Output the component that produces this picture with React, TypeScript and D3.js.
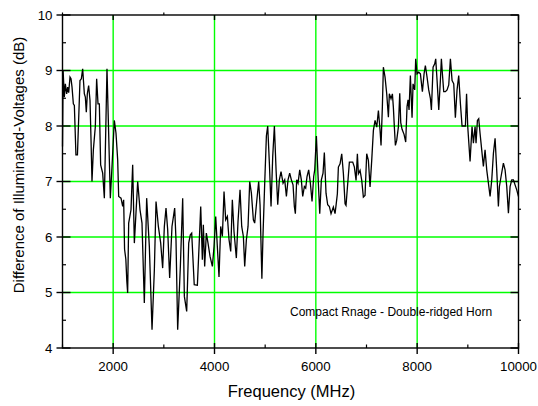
import React from "react";
import * as d3 from "d3";

const freqMHz = [
  1000, 1012, 1036, 1056, 1082, 1102, 1122, 1148, 1168, 1188, 1214, 1234, 1265, 1295, 1345, 1372, 1398, 1431, 1451, 1470,
  1490, 1516, 1543, 1563, 1582, 1609, 1648, 1674, 1701, 1727, 1753, 1793, 1826, 1859, 1878, 1911, 1944, 1977, 2023, 2056,
  2089, 2109, 2155, 2188, 2207, 2225, 2250, 2270, 2286,
  2306, 2352, 2385, 2418, 2484, 2530, 2569, 2615, 2661, 2714, 2767, 2813, 2846, 2892, 2938, 2977, 3010, 3043, 3076, 3115,
  3161, 3214, 3240, 3273, 3326, 3372, 3405, 3451, 3491, 3523, 3550, 3600,
  3662, 3695, 3728, 3760, 3780, 3806, 3839, 3872, 3912, 3958, 3991, 4024, 4056, 4089, 4122, 4155, 4188, 4221, 4254, 4287,
  4320, 4352, 4385, 4431, 4464, 4504, 4537, 4570, 4596, 4629, 4662, 4695, 4728, 4767, 4793, 4833, 4872, 4899, 4935,
  4958, 4991, 5024, 5050, 5083, 5116, 5149, 5182, 5215, 5248, 5280, 5313, 5353, 5386, 5419, 5451, 5484, 5517, 5550, 5576,
  5596, 5622, 5649, 5682, 5714, 5741, 5774, 5800, 5826, 5859, 5892, 5925, 5958, 5978, 6011, 6044, 6077, 6109, 6142, 6168,
  6201, 6234, 6267, 6300,
  6346, 6379, 6399, 6425, 6445, 6478, 6511, 6544, 6577, 6596, 6629, 6662, 6695, 6728, 6761, 6794, 6820, 6840, 6873, 6906,
  6938, 6971, 7004, 7037, 7070, 7103, 7136, 7169, 7202, 7235, 7268, 7287, 7313, 7333, 7366, 7399, 7432, 7451, 7484, 7511,
  7530, 7550, 7570, 7596, 7629,
  7656, 7676, 7702, 7741, 7774, 7800, 7820, 7840, 7866, 7899, 7919, 7952, 7971, 7998, 8031, 8064, 8103, 8136, 8162, 8195,
  8228, 8261, 8281, 8314, 8346, 8366, 8393, 8426, 8458, 8478, 8498, 8524, 8557, 8590, 8623, 8656, 8689, 8722, 8754, 8787,
  8820, 8853, 8886, 8919, 8952, 8975,
  8998, 9044, 9083, 9110, 9143, 9162, 9189, 9215, 9241, 9274, 9307, 9340, 9373, 9406, 9439, 9472, 9505, 9538, 9570, 9603,
  9623, 9656, 9702, 9735, 9768, 9801, 9834, 9867, 9900, 9932, 9965, 10000,
];

const diffDb = [
  7.63, 9.0, 8.52, 8.76, 8.58, 8.7, 8.6, 8.88, 8.85, 8.7, 8.4, 8.37, 7.48, 7.48, 8.82, 8.85, 9.03, 8.58, 8.52, 8.25,
  8.58, 8.73, 8.46, 7.75, 7.0, 7.57, 7.99, 8.85, 8.4, 8.4, 7.3, 7.15, 6.7, 8.16, 9.03, 7.87, 6.7, 7.27, 8.1, 7.87,
  7.39, 6.73, 6.7, 6.55, 6.67, 5.78, 5.6, 5.2, 4.99,
  6.25, 6.49, 7.3, 5.89, 7.0, 6.49, 6.25, 4.81, 6.7, 5.83, 4.33, 5.41, 6.64, 6.19, 5.89, 5.44, 6.19, 6.52, 6.13, 5.26,
  6.19, 6.52, 5.95, 4.33, 5.47, 6.7, 4.93, 4.66, 5.89, 6.04, 6.07, 5.14,
  5.13, 5.83, 6.55, 5.59, 6.22, 5.47, 6.07, 5.89, 5.65, 5.47, 5.83, 6.37, 5.83, 5.28, 6.19, 6.01, 6.82, 6.31, 6.37, 5.95,
  5.74, 6.67, 6.1, 5.62, 6.28, 6.85, 6.19, 6.01, 5.47, 5.95, 6.19, 7.0, 6.79, 6.31, 6.25, 6.64, 7.0, 6.58, 5.25,
  6.06, 6.97, 7.82, 8.0, 7.33, 6.55, 7.45, 8.0, 7.21, 6.58, 7.03, 7.18, 6.97, 7.03, 6.73, 7.03, 7.15, 7.03, 6.94, 6.55,
  6.42, 7.03, 6.97, 7.21, 7.03, 6.73, 6.91, 6.88, 7.09, 7.21, 6.97, 6.64, 7.09, 7.21, 7.82, 7.09, 6.42, 7.03, 7.15, 7.52,
  6.79, 6.58, 6.55, 6.42,
  6.54, 6.42, 6.57, 6.78, 7.26, 7.32, 7.5, 7.14, 6.6, 6.57, 6.96, 7.35, 7.35, 7.35, 7.26, 7.02, 7.5, 7.14, 7.2, 7.02,
  6.72, 6.75, 7.5, 7.38, 6.9, 7.38, 7.92, 8.1, 7.98, 8.28, 7.92, 7.65, 8.34, 9.06, 8.88, 8.58, 8.16, 8.58, 8.49, 8.58,
  8.34, 7.98, 7.65, 7.74, 7.98,
  8.59, 8.06, 7.94, 7.85, 7.71, 8.35, 8.47, 8.29, 8.91, 8.15, 8.76, 8.65, 9.21, 8.94, 8.97, 8.94, 8.62, 8.94, 9.09, 8.88,
  8.65, 8.5, 8.29, 9.06, 9.12, 9.21, 8.82, 8.29, 8.82, 9.21, 8.94, 8.62, 8.62, 8.65, 8.74, 9.21, 8.82, 8.76, 8.15, 8.65,
  8.91, 8.41, 8.0, 8.0, 8.0, 8.58,
  7.99, 7.36, 7.99, 7.69, 7.99, 7.69, 8.1, 8.13, 7.87, 7.57, 7.27, 7.57, 7.21, 6.97, 6.73, 7.03, 7.51, 7.78, 7.21, 6.55,
  6.91, 7.09, 7.33, 7.21, 6.91, 6.43, 6.91, 7.03, 7.03, 6.94, 6.85, 6.73,
];

const xMajorTicks = [2000, 4000, 6000, 8000, 10000];
const xMinorTicks = [1000, 3000, 5000, 7000, 9000];
const xGridLines = [2000, 4000, 6000, 8000];
const yMajorTicks = [4, 5, 6, 7, 8, 9, 10];
const yMinorTicks = [4.5, 5.5, 6.5, 7.5, 8.5, 9.5];
const yGridLines = [5, 6, 7, 8, 9];

const xTitle = "Frequency (MHz)";
const yTitle = "Difference of Illuminated-Voltages (dB)";
const note = "Compact Rnage - Double-ridged Horn";

const W = 538;
const H = 406;
const left = 62.5;
const right = 518.5;
const top = 15;
const bottom = 348;
const font = "'Liberation Sans', Arial, Helvetica, sans-serif";

export default function App() {
  const x = d3.scaleLinear().domain([1000, 10000]).range([left, right]);
  const y = d3.scaleLinear().domain([4, 10]).range([bottom, top]);
  const pts: [number, number][] = freqMHz.map((f, i) => [f, diffDb[i]]);
  const line = d3
    .line<[number, number]>()
    .x((d) => x(d[0]))
    .y((d) => y(d[1]));

  const green = "#00ff00";
  return (
    <svg
      width={W}
      height={H}
      style={{ position: "fixed", left: 0, top: 0, background: "#fff" }}
      fontFamily={font}
    >
      <rect x={0} y={0} width={W} height={H} fill="#fff" />
      {/* grid */}
      {xGridLines.map((v) => (
        <line key={"gx" + v} x1={x(v)} x2={x(v)} y1={top} y2={bottom} stroke={green} strokeWidth={1.4} />
      ))}
      {yGridLines.map((v) => (
        <line key={"gy" + v} x1={left} x2={right} y1={y(v)} y2={y(v)} stroke={green} strokeWidth={1.4} />
      ))}
      {/* data */}
      <path d={line(pts) || ""} fill="none" stroke="#000" strokeWidth={1.3} strokeLinejoin="miter" strokeMiterlimit={4} />
      {/* frame */}
      <rect x={left} y={top} width={right - left} height={bottom - top} fill="none" stroke="#000" strokeWidth={1.4} />
      {/* left ticks */}
      {yMajorTicks.map((v) => (
        <line key={"ly" + v} x1={left - 6} x2={left + 8} y1={y(v)} y2={y(v)} stroke="#000" strokeWidth={1.4} />
      ))}
      {yMinorTicks.map((v) => (
        <line key={"lym" + v} x1={left} x2={left + 3.5} y1={y(v)} y2={y(v)} stroke="#000" strokeWidth={1.2} />
      ))}
      {/* right ticks */}
      {yMajorTicks.map((v) => (
        <line key={"ry" + v} x1={right - 8} x2={right} y1={y(v)} y2={y(v)} stroke="#000" strokeWidth={1.4} />
      ))}
      {yMinorTicks.map((v) => (
        <line key={"rym" + v} x1={right} x2={right + 2.5} y1={y(v)} y2={y(v)} stroke="#000" strokeWidth={1.2} />
      ))}
      {/* bottom ticks */}
      {xMajorTicks.map((v) => (
        <line key={"bx" + v} x1={x(v)} x2={x(v)} y1={bottom - 5} y2={bottom + 6} stroke="#000" strokeWidth={1.4} />
      ))}
      {xMinorTicks.map((v) => (
        <line key={"bxm" + v} x1={x(v)} x2={x(v)} y1={bottom - 3.5} y2={bottom} stroke="#000" strokeWidth={1.2} />
      ))}
      {/* top ticks */}
      {xMajorTicks.map((v) => (
        <line key={"tx" + v} x1={x(v)} x2={x(v)} y1={top} y2={top + 5} stroke="#000" strokeWidth={1.4} />
      ))}
      {xMinorTicks.map((v) => (
        <line key={"txm" + v} x1={x(v)} x2={x(v)} y1={top - 2.5} y2={top} stroke="#000" strokeWidth={1.2} />
      ))}
      {/* tick labels */}
      {yMajorTicks.map((v) => (
        <text key={"yl" + v} x={left - 10} y={y(v) + 4.6} textAnchor="end" fontSize={13.3} fill="#000">
          {String(v)}
        </text>
      ))}
      {xMajorTicks.map((v) => (
        <text key={"xl" + v} x={x(v)} y={371} textAnchor="middle" fontSize={13.3} fill="#000">
          {String(v)}
        </text>
      ))}
      {/* titles */}
      <text x={(left + right) / 2 + 1} y={397} textAnchor="middle" fontSize={16.5} fill="#000">
        {xTitle}
      </text>
      <text
        transform={`translate(24, 165) rotate(-90)`}
        textAnchor="middle"
        fontSize={15}
        fill="#000"
      >
        {yTitle}
      </text>
      <text x={290} y={316} fontSize={12} fill="#000">
        {note}
      </text>
    </svg>
  );
}
